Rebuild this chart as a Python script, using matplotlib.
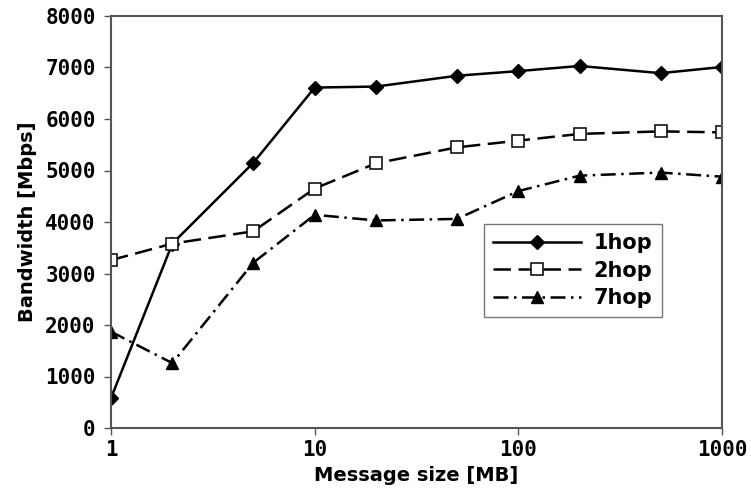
import numpy as np
import matplotlib
matplotlib.use("Agg")
import matplotlib.pyplot as plt
from matplotlib.ticker import FixedLocator, FixedFormatter, NullLocator

# message sizes in MB and measured bandwidth in Mbps
msg_size = [1, 2, 5, 10, 20, 50, 100, 200, 500, 1000]
bw_1hop = [580, 3580, 5150, 6610, 6630, 6840, 6930, 7030, 6890, 7010]
bw_2hop = [3260, 3580, 3820, 4650, 5140, 5450, 5580, 5710, 5760, 5740]
bw_7hop = [1870, 1260, 3210, 4140, 4030, 4060, 4600, 4900, 4960, 4880]

xticks = [1, 10, 100, 1000]
yticks = [0, 1000, 2000, 3000, 4000, 5000, 6000, 7000, 8000]

fig = plt.figure(figsize=(7.51, 4.96), dpi=100)
ax = fig.add_axes([111/751, 1 - 428/496, (722-111)/751, (428-16)/496])

ax.plot(msg_size, bw_1hop, '-', color='black', lw=1.8, marker='D', ms=7,
        mfc='black', mec='black', label='1hop')
ax.plot(msg_size, bw_2hop, color='black', lw=1.8, dashes=(7, 3), marker='s', ms=8,
        mfc='white', mec='black', mew=1.1, label='2hop')
ax.plot(msg_size, bw_7hop, color='black', lw=1.8, dashes=(6, 2.2, 1, 2.2), marker='^', ms=8,
        mfc='black', mec='black', label='7hop')

ax.set_xscale('log')
ax.set_xlim(1, 1000)
ax.set_ylim(0, 8000)
ax.xaxis.set_major_locator(FixedLocator(xticks))
ax.xaxis.set_major_formatter(FixedFormatter([str(v) for v in xticks]))
ax.xaxis.set_minor_locator(NullLocator())
ax.set_yticks(yticks)
ax.set_yticklabels([str(v) for v in yticks])

tick_font = dict(family='DejaVu Sans Mono', weight='bold', size=15)
for lab in ax.get_xticklabels() + ax.get_yticklabels():
    lab.set_fontproperties(matplotlib.font_manager.FontProperties(**tick_font))

ax.tick_params(axis='both', direction='out', length=5, width=1, color='#555555')
ax.tick_params(axis='y', pad=6)
ax.tick_params(axis='x', pad=4)
for s in ax.spines.values():
    s.set_color('#555555')
    s.set_linewidth(1.5)

ax.set_xlabel('Message size [MB]', fontsize=14, fontweight='bold', labelpad=4)
ax.set_ylabel('Bandwidth [Mbps]', fontsize=14, fontweight='bold', labelpad=6)

leg = ax.legend(loc='upper left', bbox_to_anchor=(373/611, (428-224)/412),
                prop=dict(weight='bold', size=15), handlelength=4.2,
                fancybox=False, framealpha=1, edgecolor='#777777',
                borderpad=0.45, labelspacing=0.35, handletextpad=0.6, borderaxespad=0)
leg.get_frame().set_linewidth(1)

fig.savefig('out.png', dpi=100)
